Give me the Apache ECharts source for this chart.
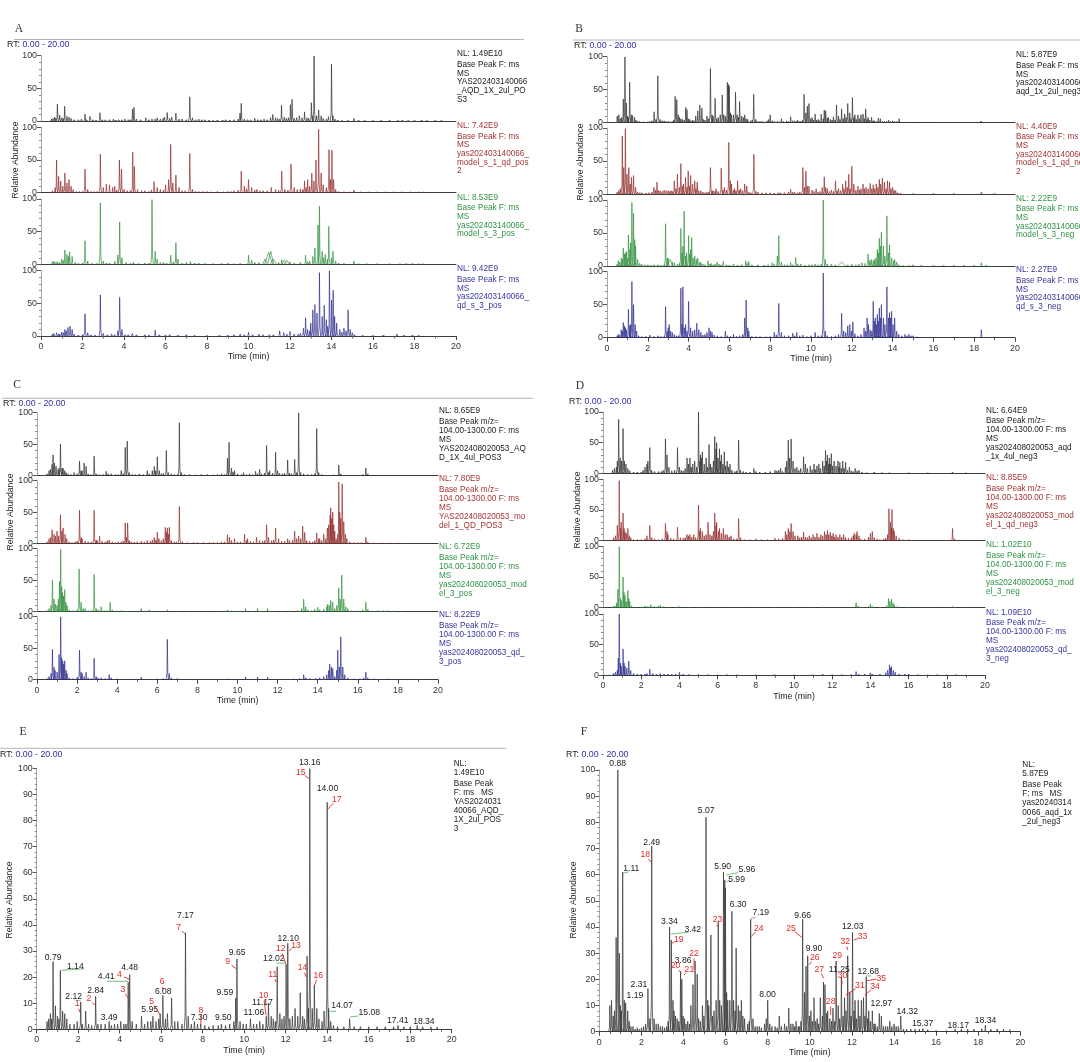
<!DOCTYPE html>
<html>
<head>
<meta charset="utf-8">
<script src="https://cdn.jsdelivr.net/npm/echarts@6/dist/echarts.min.js"></script>
<style>
  html, body { margin: 0; background: #fff; }
  #chart { width: 1080px; height: 1062px; }
</style>
</head>
<body>
<div id="chart"></div>
<script>
// Base peak chromatograms, six panels (A-D stacked, E/F annotated).
// Each trace is a list of peaks: [time (min), rel. abundance, half-width?]

// ---- panel A / E : positive mode, 2024-03-14 batch ----
const aqdPos = [[0.5,3],[0.58,4],[0.66,6],[0.72,4],[0.79,26],[0.9,9],[1.0,5],[1.07,4],[1.14,22.6],[1.25,7],[1.35,6],[1.45,4],[1.6,2],[1.8,2],[1.95,3],[2.12,10.5],[2.2,2],[2.36,7],[2.5,2],[2.65,1.5],[2.84,12.6],[2.95,2],[3.1,2],[3.3,2],[3.49,3],[3.6,1.5],[3.75,2],[3.9,2],[4.05,3],[4.2,2],[4.3,2],[4.41,18],[4.48,21],[4.6,3],[4.8,2],[5.05,5],[5.2,2],[5.35,3],[5.5,3],[5.6,5],[5.75,3],[5.88,4],[5.95,6],[6.08,13],[6.2,4],[6.3,6],[6.5,12],[6.65,3],[6.8,3],[7.0,2],[7.17,37],[7.3,5],[7.45,2],[7.6,3],[7.75,2],[7.9,2],[8.1,1.5],[8.3,1],[8.5,1.5],[8.75,1.5],[8.9,2],[9.1,1.5],[9.3,2],[9.5,3],[9.59,12],[9.65,27],[9.8,3],[9.95,2],[10.1,2],[10.3,4],[10.45,2],[10.6,2],[10.75,3],[10.9,2],[11.06,5],[11.17,10],[11.3,5],[11.4,4],[11.5,3],[11.59,24],[11.72,6],[11.82,4],[11.92,5],[12.02,25],[12.1,33],[12.2,4],[12.32,5],[12.45,8],[12.58,5],[12.7,14],[12.82,5],[12.9,4],[13.03,28],[13.1,8],[13.16,100],[13.28,8],[13.38,17],[13.5,8],[13.6,4],[13.75,3],[13.85,7],[14.0,87],[14.07,8],[14.17,3],[14.3,1.5],[14.5,1],[14.8,1],[15.08,4],[15.3,1],[15.6,1],[16.0,1],[16.4,1],[16.8,1],[17.2,1],[17.41,1.5],[17.7,1],[18.0,1],[18.34,1.5],[18.6,1],[19.0,1],[19.3,0.8]];
const modelQdPos = [[0.55,3],[0.68,8],[0.75,50],[0.85,25],[0.95,18],[1.05,10],[1.15,30],[1.25,15],[1.35,20],[1.45,10],[1.55,5],[1.7,2],[1.85,2],[2.0,2],[2.12,36],[2.25,5],[2.4,2],[2.55,2],[2.7,2],[2.86,59],[3.0,8],[3.15,13],[3.3,12],[3.45,8],[3.55,10],[3.65,4],[3.78,50],[3.88,36],[4.0,5],[4.15,3],[4.3,3],[4.42,62],[4.5,40],[4.65,5],[4.85,3],[5.0,3],[5.2,2],[5.32,4],[5.45,17],[5.6,8],[5.75,5],[5.9,4],[6.0,12],[6.15,20],[6.25,74],[6.35,15],[6.5,27],[6.65,8],[6.8,3],[6.95,3],[7.17,60],[7.3,5],[7.45,2],[7.6,2],[7.8,2],[8.0,2],[8.2,1.5],[8.5,2],[8.8,1.5],[9.0,2],[9.15,2],[9.3,3],[9.5,4],[9.65,33],[9.8,10],[9.9,6],[10.0,20],[10.15,8],[10.3,4],[10.4,5],[10.55,3],[10.7,3],[10.9,3],[11.1,8],[11.3,5],[11.45,4],[11.6,33],[11.75,5],[11.9,4],[12.05,44],[12.2,8],[12.35,5],[12.5,6],[12.62,5],[12.7,18],[12.78,8],[12.85,20],[12.95,10],[13.05,30],[13.15,18],[13.25,50],[13.38,97],[13.5,30],[13.6,12],[13.75,8],[13.88,66],[13.95,20],[14.02,65],[14.1,20],[14.2,5],[14.35,2],[14.6,1.5],[14.9,1.5],[15.08,4],[15.4,1.5],[15.8,1.5],[16.2,1.5],[16.6,1.5],[17.0,1.5],[17.4,1.5],[17.8,1.5],[18.2,1.5],[18.4,1.5]];
const modelPos = [[0.55,4],[0.62,5],[0.72,3],[0.8,4],[0.9,3],[1.0,8],[1.08,6],[1.15,22],[1.25,15],[1.32,12],[1.38,19],[1.5,12],[1.65,3],[1.8,1.5],[2.0,2],[2.12,36],[2.25,5],[2.45,1.5],[2.7,1.5],[2.86,94],[3.0,5],[3.15,2],[3.3,2],[3.55,5],[3.7,14],[3.79,65],[3.9,10],[4.1,3],[4.3,1.5],[4.45,3],[4.7,1.5],[5.0,2],[5.2,2],[5.35,99],[5.5,20],[5.6,8],[5.75,3],[5.9,3],[6.05,2],[6.25,14],[6.38,4],[6.5,33],[6.6,8],[6.8,2],[7.0,3],[7.2,4],[7.4,2],[7.6,2],[7.9,1.5],[8.3,1],[8.7,1.5],[9.0,2],[9.3,1],[9.6,1.5],[10.0,14],[10.15,6],[10.3,3],[10.5,3],[10.8,8,0.12],[10.97,18,0.2],[11.07,20,0.15],[11.2,8,0.15],[11.45,3],[11.6,7],[11.72,6,0.12],[11.85,6,0.12],[12.0,4],[12.2,2],[12.5,3],[12.75,14],[12.85,4],[12.95,5],[13.1,12],[13.2,25],[13.35,60],[13.42,89],[13.55,20],[13.62,10],[13.7,15],[13.8,8],[13.87,58],[14.0,10],[14.07,20],[14.2,5],[14.35,2],[14.6,1.5],[15.08,5],[15.3,1],[15.7,1],[16.2,1],[16.8,1],[17.3,1],[17.6,1.5],[17.9,1.5],[18.2,1],[18.4,1]];
const qdPos = [[0.55,3],[0.62,4],[0.75,5],[0.85,3],[0.9,3],[1.0,6],[1.08,5],[1.15,10],[1.22,8],[1.3,13],[1.4,15],[1.5,10],[1.6,3],[1.8,1.5],[2.0,2],[2.12,34],[2.25,5],[2.4,2],[2.6,1.5],[2.86,63],[3.0,4],[3.2,2],[3.4,3],[3.55,2],[3.7,8],[3.79,59],[3.9,10],[4.05,2],[4.2,2],[4.4,4],[4.6,2],[5.0,2],[5.2,1.5],[5.5,9],[5.7,2],[6.0,1.5],[6.2,2],[6.6,1.5],[7.0,2],[7.4,1],[8.0,1],[8.6,1],[9.0,1.5],[9.3,2],[9.6,3],[9.8,2],[10.0,6],[10.2,2],[10.5,3],[10.7,2],[11.0,2],[11.2,2],[11.5,8],[11.7,5],[11.85,3],[12.0,7],[12.2,3],[12.4,3],[12.5,4],[12.65,12],[12.75,28],[12.85,10],[12.95,8],[13.0,20],[13.1,40],[13.2,48],[13.3,35],[13.42,97],[13.55,30],[13.65,47],[13.75,25],[13.82,15],[13.9,100],[14.0,55],[14.08,70],[14.15,30],[14.25,20],[14.4,10],[14.5,6],[14.6,12],[14.7,8],[14.8,40],[14.9,10],[15.0,5],[15.1,2],[15.5,1],[16.0,1],[16.5,1.5],[17.15,3],[17.5,1.5],[17.9,1.5],[18.2,1]];

// ---- panel B / F : negative mode, 2024-03-14 batch ----
const aqdNeg = [[0.5,10],[0.58,12],[0.66,6],[0.72,8],[0.8,36],[0.88,100],[0.95,30],[1.0,10],[1.05,8],[1.11,61],[1.19,12],[1.25,11],[1.35,8],[1.42,4],[1.5,2],[1.6,2],[1.7,1],[1.8,1.5],[1.9,1],[2.0,1.5],[2.1,2],[2.2,3],[2.31,16.5],[2.4,5],[2.49,71],[2.6,5],[2.7,3],[2.8,3],[2.9,2],[3.0,2],[3.1,1.5],[3.2,2],[3.27,4],[3.34,40],[3.42,35],[3.5,12],[3.55,8],[3.62,6],[3.7,5],[3.78,4],[3.86,23],[3.92,20],[3.98,6],[4.05,5],[4.12,3],[4.2,4],[4.28,3],[4.35,10],[4.45,18],[4.55,27],[4.65,22],[4.72,5],[4.8,4],[4.9,10],[4.97,6],[5.07,82],[5.15,12],[5.2,10],[5.3,37],[5.38,6],[5.45,8],[5.55,12],[5.65,42],[5.72,12],[5.8,10],[5.9,61],[5.96,58],[5.99,55],[6.05,15],[6.1,12],[6.2,12],[6.3,46],[6.38,12],[6.45,8],[6.5,32],[6.6,10],[6.68,8],[6.75,12],[6.82,6],[6.9,5],[7.05,3],[7.12,4],[7.19,43],[7.3,5],[7.4,2],[7.5,2],[7.6,2],[7.7,1.5],[7.85,3],[7.93,5],[8.0,12],[8.1,3],[8.2,2],[8.35,2],[8.45,1.5],[8.55,6],[8.65,2],[8.8,3],[8.9,2],[9.0,9],[9.1,3],[9.2,3],[9.28,2],[9.35,4],[9.45,2],[9.5,2],[9.58,4],[9.66,43],[9.75,15],[9.82,25],[9.9,29],[9.98,6],[10.05,8],[10.12,4],[10.2,13],[10.28,4],[10.35,5],[10.42,3],[10.5,13],[10.6,6],[10.65,19],[10.72,18],[10.8,7],[10.85,8],[10.95,5],[11.03,4],[11.1,9],[11.18,4],[11.25,27],[11.35,10],[11.42,5],[11.5,21],[11.58,6],[11.65,13],[11.72,8],[11.8,29],[11.9,15],[11.96,6],[12.03,38],[12.1,8],[12.15,12],[12.22,5],[12.3,12],[12.38,6],[12.45,12],[12.55,13],[12.62,6],[12.68,21],[12.75,5],[12.8,8],[12.88,4],[12.97,8],[13.05,3],[13.1,3],[13.2,2],[13.3,7],[13.4,6],[13.5,2],[13.6,2],[13.7,2],[13.8,4],[13.9,2],[14.0,3],[14.1,2],[14.2,2],[14.32,6],[14.45,1],[14.6,1],[14.8,1],[15.0,1],[15.2,1],[15.37,1.2],[15.6,0.8],[16.0,0.5],[16.5,0.5],[16.9,1],[17.2,1],[17.5,1],[17.8,1],[18.17,1.2],[18.34,2.5],[18.6,1],[18.9,1],[19.2,1],[19.5,0.8]];
const modelQdNeg = [[0.5,3],[0.58,5],[0.65,8],[0.75,88],[0.82,40],[0.9,99],[0.98,30],[1.07,40],[1.14,15],[1.2,25],[1.3,28],[1.4,10],[1.5,3],[1.6,2],[1.7,2],[1.9,1.5],[2.05,2],[2.2,3],[2.3,10],[2.38,6],[2.45,18],[2.52,5],[2.6,5],[2.7,4],[2.8,6],[2.9,5],[3.0,5],[3.08,4],[3.15,5],[3.22,4],[3.3,20],[3.38,8],[3.45,30],[3.55,10],[3.62,46],[3.7,12],[3.75,15],[3.85,25],[3.92,10],[3.98,35],[4.05,12],[4.1,28],[4.2,15],[4.3,20],[4.36,8],[4.42,18],[4.5,5],[4.6,5],[4.7,3],[4.8,2],[4.9,3],[5.0,3],[5.07,40],[5.15,5],[5.2,5],[5.3,4],[5.35,8],[5.45,4],[5.6,39],[5.68,6],[5.75,10],[5.85,6],[5.97,78],[6.05,20],[6.1,15],[6.2,6],[6.25,8],[6.32,5],[6.4,20],[6.48,6],[6.55,8],[6.65,5],[6.75,15],[6.85,12],[6.95,3],[7.05,2],[7.2,60],[7.3,4],[7.4,3],[7.6,2],[7.8,2],[8.0,2],[8.2,1.5],[8.4,2],[8.5,2],[8.7,2],[8.9,3],[9.0,7],[9.1,3],[9.2,3],[9.35,2],[9.45,3],[9.6,40],[9.68,10],[9.75,35],[9.82,12],[9.9,12],[10.05,6],[10.15,4],[10.25,8],[10.35,3],[10.45,4],[10.55,10],[10.65,26],[10.72,10],[10.8,8],[10.9,4],[11.0,6],[11.1,4],[11.2,20],[11.28,5],[11.35,8],[11.45,5],[11.55,15],[11.62,8],[11.7,20],[11.78,10],[11.85,30],[11.92,8],[12.0,42],[12.1,15],[12.2,6],[12.3,12],[12.38,6],[12.45,8],[12.55,15],[12.62,8],[12.7,10],[12.8,8],[12.9,16],[12.98,8],[13.05,14],[13.12,8],[13.2,15],[13.28,10],[13.35,22],[13.42,15],[13.5,24],[13.6,18],[13.68,8],[13.75,20],[13.85,18],[13.92,8],[14.0,10],[14.08,6],[14.15,5],[14.25,2],[14.4,1],[15.0,0.8],[16.0,0.8],[17.0,0.8],[18.35,3],[19.0,0.8]];
const modelNeg = [[0.5,3],[0.55,8],[0.62,6],[0.7,12],[0.75,10],[0.8,27],[0.86,18],[0.9,20],[0.95,22],[1.0,12],[1.05,47],[1.12,25],[1.15,35],[1.22,96],[1.3,80],[1.36,40],[1.4,30],[1.5,10],[1.6,4],[1.7,3],[1.85,2],[2.0,2],[2.15,1.5],[2.3,2],[2.5,2],[2.65,1.5],[2.8,2],[2.87,64],[2.95,12],[3.0,12],[3.1,10,0.15],[3.2,6],[3.3,5],[3.45,3],[3.55,4],[3.62,57],[3.68,20],[3.72,30],[3.78,83],[3.85,15],[3.9,20],[4.0,46],[4.06,18],[4.1,25],[4.15,43],[4.22,12],[4.3,15],[4.38,10],[4.45,12],[4.55,6],[4.6,5],[4.7,3],[4.8,2],[4.95,8],[5.05,3],[5.1,4],[5.2,2],[5.3,3],[5.4,6],[5.5,3],[5.6,2],[5.7,7],[5.85,2],[6.0,1.5],[6.2,3],[6.4,1.5],[6.6,2],[6.8,8],[6.88,4],[6.95,7],[7.1,2],[7.4,2],[7.7,1.5],[7.9,2],[8.1,5],[8.2,3],[8.35,15],[8.42,46],[8.55,6],[8.7,2],[8.85,2],[9.0,5],[9.1,2],[9.25,13],[9.35,3],[9.5,3],[9.7,1.5],[9.9,2],[10.05,2],[10.2,3],[10.35,2],[10.5,3],[10.6,100],[10.7,10],[10.8,3],[11.0,3],[11.2,2],[11.5,6,0.2],[11.8,2],[12.0,3],[12.2,2],[12.35,3],[12.5,5],[12.65,4],[12.8,18],[12.88,8],[12.95,10],[13.05,8],[13.1,10],[13.18,12],[13.25,25],[13.3,20],[13.35,42],[13.4,30],[13.45,51],[13.55,30],[13.62,15],[13.72,76],[13.8,20],[13.85,32],[13.95,12],[14.05,8],[14.1,10],[14.2,6],[14.3,2],[14.5,1],[14.8,1],[15.0,2],[15.4,1],[16.0,1],[16.5,1],[17.0,1],[17.5,1],[18.0,1],[18.35,5],[18.6,1]];
const qdNeg = [[0.5,3],[0.55,5],[0.62,4],[0.7,12],[0.75,10],[0.8,23],[0.86,18],[0.9,15],[0.95,12],[1.05,43],[1.12,18],[1.15,20],[1.22,85],[1.3,50],[1.38,20],[1.45,10],[1.55,3],[1.7,2],[1.9,2],[2.1,4],[2.3,2],[2.5,3],[2.65,2],[2.8,2],[2.87,47],[2.95,10],[3.0,15],[3.05,20],[3.12,10],[3.2,8],[3.3,5],[3.4,3],[3.5,3],[3.62,75],[3.68,20],[3.72,77],[3.8,15],[3.85,20],[3.92,10],[4.0,55],[4.1,15],[4.2,10],[4.3,12],[4.4,22],[4.5,12],[4.6,8],[4.7,4],[4.8,5],[4.9,8],[5.0,15],[5.08,10],[5.15,8],[5.25,4],[5.4,3],[5.6,2],[5.8,10],[5.9,3],[6.05,2],[6.2,5],[6.35,2],[6.5,3],[6.65,5],[6.75,30],[6.82,57],[6.9,15],[6.95,10],[7.1,2],[7.3,2],[7.5,2],[7.8,1.5],[8.0,2],[8.2,8],[8.3,4],[8.42,52],[8.55,8],[8.7,3],[8.9,3],[9.1,7],[9.2,3],[9.3,8],[9.45,3],[9.6,4],[9.8,2],[10.0,3],[10.2,8],[10.35,3],[10.5,3],[10.6,98],[10.7,10],[10.8,3],[11.0,2],[11.2,3],[11.35,5],[11.5,37],[11.6,10],[11.7,8],[11.8,18],[11.9,20],[11.98,10],[12.05,24],[12.15,6],[12.3,3],[12.45,5],[12.6,15],[12.68,10],[12.75,30],[12.82,20],[12.9,12],[12.98,10],[13.05,55],[13.1,25],[13.15,30],[13.2,20],[13.25,35],[13.3,25],[13.35,45],[13.4,30],[13.45,50],[13.55,30],[13.62,20],[13.72,77],[13.8,30],[13.85,38],[13.9,30],[13.95,40],[14.02,20],[14.1,30],[14.2,10],[14.3,5],[14.45,3],[14.6,5],[14.7,3],[14.8,5],[14.9,3],[15.0,3],[15.2,1.5],[15.5,1],[16.0,1],[16.5,1],[17.0,1],[17.5,1],[18.0,1],[18.35,12],[18.6,1],[19.0,0.8]];

// ---- panel C : positive mode, 2024-08-02 batch ----
const aqdPos2 = [[0.5,3],[0.6,8],[0.67,10],[0.75,18],[0.8,33],[0.87,20],[0.95,15],[1.05,10],[1.1,12],[1.17,50],[1.25,12],[1.3,12],[1.38,8],[1.45,5],[1.55,3],[1.7,2],[1.85,5],[2.0,3],[2.12,23],[2.2,8],[2.25,8],[2.35,20],[2.45,15],[2.55,3],[2.7,2],[2.85,31],[2.95,3],[3.1,2],[3.3,2],[3.45,7],[3.55,3],[3.7,3],[3.9,2],[4.05,2],[4.2,8],[4.3,3],[4.4,45],[4.5,55],[4.6,5],[4.75,2],[4.9,2],[5.1,3],[5.3,2],[5.5,8],[5.6,3],[5.75,8],[5.85,15],[5.92,8],[6.0,30],[6.1,8],[6.2,3],[6.3,4],[6.45,40],[6.55,5],[6.7,3],[6.85,2],[7.0,2],[7.1,84],[7.2,5],[7.35,2],[7.6,2],[7.9,1.5],[8.2,2],[8.5,2],[8.8,1.5],[9.0,2],[9.2,3],[9.35,2],[9.5,28],[9.58,53],[9.7,12],[9.78,6],[9.85,8],[10.0,3],[10.2,2],[10.3,5],[10.45,2],[10.6,3],[10.75,2],[10.9,7],[11.0,3],[11.1,10],[11.2,3],[11.35,4],[11.45,48],[11.55,5],[11.6,8],[11.75,4],[11.9,37],[12.0,8],[12.1,4],[12.25,3],[12.35,4],[12.5,25],[12.6,4],[12.7,3],[12.85,26],[12.95,5],[13.05,100],[13.15,5],[13.3,3],[13.5,2],[13.7,2],[13.85,3],[13.95,75],[14.05,5],[14.2,2],[14.5,1],[14.8,1.5],[15.05,17],[15.15,3],[15.4,1],[15.7,1],[16.0,1],[16.25,2],[16.4,12],[16.5,3],[16.8,1],[17.2,1],[17.6,1],[18.0,1]];
const model1Pos2 = [[0.5,3],[0.6,8],[0.68,10],[0.75,22],[0.85,15],[0.92,12],[1.0,20],[1.08,12],[1.17,46],[1.24,20],[1.3,25],[1.4,15],[1.48,8],[1.6,3],[1.75,2],[1.9,3],[2.0,4],[2.12,53],[2.2,10],[2.25,8],[2.4,4],[2.55,3],[2.7,3],[2.85,53],[2.95,6],[3.0,5],[3.12,12],[3.25,4],[3.4,3],[3.5,5],[3.6,6],[3.75,3],[3.9,2],[4.05,3],[4.2,3],[4.3,4],[4.4,33],[4.46,10],[4.52,33],[4.6,5],[4.7,3],[4.85,3],[5.0,3],[5.2,4],[5.35,3],[5.5,5],[5.65,4],[5.75,6],[5.85,10],[5.93,6],[6.0,18],[6.08,8],[6.2,5],[6.3,8],[6.4,26],[6.46,18],[6.5,25],[6.55,15],[6.6,26],[6.7,5],[6.85,3],[6.95,3],[7.1,59],[7.25,3],[7.5,2],[7.8,2],[8.0,2],[8.3,2],[8.6,2],[8.8,2],[9.0,2],[9.2,3],[9.35,3],[9.5,14],[9.6,10],[9.7,5],[9.85,8],[10.0,3],[10.15,3],[10.35,15],[10.45,5],[10.5,8],[10.65,4],[10.8,3],[10.95,10],[11.1,5],[11.25,4],[11.35,5],[11.45,30],[11.55,10],[11.7,5],[11.8,6],[11.9,25],[12.05,8],[12.2,4],[12.35,4],[12.5,8],[12.6,5],[12.75,6],[12.85,20],[12.95,8],[13.05,12],[13.15,8],[13.25,28],[13.35,18],[13.45,5],[13.6,4],[13.75,3],[13.85,5],[13.95,17],[14.05,8],[14.1,8],[14.2,5],[14.3,15],[14.4,8],[14.48,25],[14.55,30],[14.62,45],[14.65,57],[14.7,40],[14.75,50],[14.8,30],[14.85,20],[14.92,8],[15.0,15],[15.05,98],[15.1,50],[15.15,40],[15.22,95],[15.3,35],[15.38,15],[15.45,8],[15.6,3],[15.8,2],[16.0,2],[16.2,2],[16.4,10],[16.5,3],[16.8,1.5],[17.2,1.5],[17.6,1.5],[18.0,1.5],[18.4,1]];
const model3Pos2 = [[0.5,2],[0.6,5],[0.7,10],[0.77,50],[0.85,20],[0.92,12],[1.0,10],[1.07,20],[1.12,48],[1.18,99],[1.23,40],[1.27,30],[1.32,25],[1.38,35],[1.44,15],[1.5,10],[1.6,3],[1.8,2],[2.0,3],[2.1,68],[2.2,15],[2.3,5],[2.4,5],[2.55,2],[2.7,2],[2.85,59],[2.95,5],[3.05,3],[3.2,8],[3.35,2],[3.5,2],[3.65,15],[3.75,3],[4.0,1.5],[4.2,2],[4.5,1],[4.8,1],[5.2,5],[5.4,1.5],[5.6,3],[6.0,1],[6.5,3],[7.0,1],[7.5,1],[8.0,1],[8.5,1],[9.0,1],[9.5,3],[9.7,1.5],[10.0,1],[10.4,5],[10.7,1],[11.0,5],[11.2,1],[11.5,5],[11.8,1],[12.2,1],[12.6,1.5],[13.0,2],[13.2,5],[13.3,20],[13.4,8],[13.5,3],[13.7,2],[13.85,4],[14.0,7],[14.1,3],[14.3,4],[14.45,8],[14.5,12],[14.58,10],[14.65,18],[14.75,15],[14.85,5],[14.95,10],[15.05,38],[15.12,20],[15.2,58],[15.3,20],[15.4,8],[15.5,5],[15.7,2],[16.0,1.5],[16.25,3],[16.4,15],[16.5,4],[16.7,1.5],[17.0,2],[17.3,2],[17.5,2],[17.8,1.5],[18.2,1]];
const qd3Pos2 = [[0.5,2],[0.6,5],[0.7,10],[0.77,48],[0.85,20],[0.9,15],[1.0,12],[1.1,40],[1.18,100],[1.23,35],[1.28,30],[1.33,25],[1.38,30],[1.45,15],[1.5,10],[1.6,3],[1.8,2],[2.0,4],[2.12,47],[2.2,12],[2.25,10],[2.35,5],[2.45,12],[2.55,3],[2.7,2],[2.85,34],[2.95,5],[3.05,3],[3.2,3],[3.4,2],[3.6,8],[3.7,3],[4.0,1.5],[4.4,1],[4.8,1],[5.2,4],[5.5,1],[6.0,1.5],[6.3,2],[6.5,64],[6.6,10],[6.7,3],[7.0,2],[7.5,1],[8.0,1],[8.5,1],[9.0,1],[9.5,1.5],[10.0,1],[10.4,4],[10.7,1],[11.0,4],[11.2,1],[11.5,4],[11.8,1],[12.3,1],[12.8,1.5],[13.1,2],[13.3,8],[13.4,3],[13.6,2],[13.9,2],[14.1,3],[14.3,5],[14.45,8],[14.55,15],[14.6,25],[14.68,20],[14.75,18],[14.85,5],[14.95,15],[15.0,47],[15.08,20],[15.15,68],[15.25,20],[15.35,8],[15.5,3],[15.8,1.5],[16.1,1.5],[16.3,3],[16.4,12],[16.5,3],[16.8,1.5],[17.2,1],[17.5,1.5],[17.9,1],[18.3,1]];

// ---- panel D : negative mode, 2024-08-02 batch ----
const aqdNeg2 = [[0.5,5],[0.6,8],[0.7,10],[0.75,20],[0.82,88],[0.9,25],[0.97,20],[1.05,73],[1.12,20],[1.2,15],[1.3,8],[1.4,4],[1.6,2],[1.8,2],[2.0,2],[2.1,5],[2.2,10],[2.3,15],[2.35,20],[2.45,42],[2.55,5],[2.7,3],[2.9,3],[3.05,3],[3.15,5],[3.27,56],[3.35,30],[3.45,10],[3.6,4],[3.75,5],[3.9,42],[4.0,10],[4.1,5],[4.2,4],[4.3,8],[4.4,25],[4.48,15],[4.55,25],[4.62,10],[4.7,15],[4.8,20],[4.9,10],[5.0,100],[5.07,20],[5.1,30],[5.15,25],[5.2,35],[5.3,15],[5.4,25],[5.47,10],[5.55,47],[5.62,15],[5.7,10],[5.78,20],[5.85,60],[5.92,40],[5.95,50],[6.02,25],[6.1,40],[6.15,20],[6.2,30],[6.28,15],[6.35,35],[6.42,12],[6.5,20],[6.58,10],[6.65,15],[6.75,5],[6.9,3],[7.0,4],[7.1,54],[7.2,5],[7.35,3],[7.5,2],[7.7,2],[7.9,8],[8.0,3],[8.2,2],[8.5,2],[8.75,3],[9.0,5],[9.1,4],[9.2,5],[9.3,8],[9.4,3],[9.55,10],[9.62,20],[9.7,54],[9.77,25],[9.85,56],[9.95,20],[10.05,8],[10.15,10],[10.25,5],[10.35,8],[10.5,27],[10.6,15],[10.7,8],[10.85,12],[10.95,6],[11.05,15],[11.12,6],[11.2,12],[11.3,15],[11.38,8],[11.5,20],[11.58,12],[11.65,37],[11.7,20],[11.75,30],[11.82,15],[11.85,25],[11.9,15],[11.95,32],[12.02,12],[12.1,20],[12.2,12],[12.3,20],[12.35,10],[12.4,18],[12.48,8],[12.55,20],[12.62,8],[12.7,18],[12.8,5],[12.9,10],[13.0,4],[13.1,3],[13.2,8],[13.3,4],[13.4,5],[13.55,2],[13.8,1],[14.2,2],[14.6,1],[15.0,0.8],[16.0,0.8],[17.0,0.8],[18.3,2],[19.0,0.8]];
const model1Neg2 = [[0.55,5],[0.65,8],[0.75,25],[0.85,98],[0.92,20],[0.95,30],[1.05,45],[1.1,20],[1.15,15],[1.22,12],[1.3,20],[1.38,8],[1.45,5],[1.6,2],[1.8,2],[2.0,2],[2.2,3],[2.3,8],[2.45,25],[2.55,5],[2.7,3],[2.9,2],[3.1,3],[3.27,28],[3.35,15],[3.4,10],[3.55,4],[3.7,3],[3.9,22],[4.05,5],[4.2,4],[4.3,5],[4.4,10],[4.48,8],[4.55,10],[4.65,6],[4.75,10],[4.85,5],[5.0,58],[5.05,15],[5.1,20],[5.2,15],[5.3,8],[5.4,10],[5.5,30],[5.6,10],[5.7,8],[5.78,15],[5.85,45],[5.92,25],[5.95,30],[6.05,15],[6.1,20],[6.2,12],[6.3,20],[6.4,10],[6.5,10],[6.6,6],[6.7,8],[6.85,3],[7.0,3],[7.1,36],[7.2,5],[7.4,2],[7.7,2],[8.0,3],[8.3,2],[8.6,2],[9.0,4],[9.2,3],[9.4,4],[9.55,15],[9.62,10],[9.7,20],[9.78,15],[9.85,28],[9.95,15],[10.05,8],[10.2,8],[10.3,5],[10.4,6],[10.5,14],[10.6,6],[10.7,5],[10.8,8],[10.9,5],[11.0,10],[11.1,6],[11.2,12],[11.3,6],[11.4,10],[11.5,8],[11.6,15],[11.68,10],[11.75,17],[11.82,10],[11.9,14],[11.98,8],[12.05,12],[12.12,6],[12.2,10],[12.3,6],[12.4,10],[12.5,6],[12.6,10],[12.7,5],[12.85,4],[13.0,5],[13.1,8],[13.15,12],[13.25,10],[13.3,15],[13.4,8],[13.5,3],[13.7,3],[13.9,6],[14.0,12],[14.1,15],[14.2,5],[14.35,3],[14.5,2],[14.7,3],[14.8,4],[14.9,10],[14.97,52],[15.05,30],[15.1,20],[15.13,51],[15.2,20],[15.25,15],[15.35,8],[15.5,4],[15.7,2],[16.0,2],[16.3,1],[16.8,1],[17.5,1],[18.0,1],[18.3,20],[18.4,3],[18.8,1],[19.3,0.8]];
const model3Neg2 = [[0.55,2],[0.62,3],[0.72,8],[0.78,30],[0.85,100],[0.92,15],[0.95,12],[1.05,50],[1.1,25],[1.15,20],[1.22,10],[1.3,28],[1.35,15],[1.4,10],[1.5,3],[1.7,1],[2.0,1.5],[2.2,3],[2.35,2],[2.5,5],[2.7,2],[2.9,3],[3.0,4],[3.15,2],[3.4,1],[3.8,1],[4.0,2],[4.5,1],[5.0,1],[6.0,0.8],[7.0,0.8],[8.0,0.8],[9.0,0.8],[10.0,0.8],[11.0,0.8],[11.5,1.5],[12.0,0.8],[13.0,1],[13.25,8],[13.35,3],[13.6,1],[13.9,2],[14.0,6],[14.1,2],[14.5,1],[14.85,3],[14.95,15],[15.02,10],[15.1,14],[15.18,8],[15.25,5],[15.4,2],[16.0,1],[17.0,0.8],[18.3,2],[19.0,0.8]];
const qd3Neg2 = [[0.55,3],[0.65,5],[0.75,8],[0.8,28],[0.85,100],[0.92,20],[0.95,15],[1.05,43],[1.1,20],[1.15,15],[1.25,12],[1.35,23],[1.45,8],[1.6,3],[1.8,2],[2.0,2],[2.2,2],[2.3,3],[2.45,10],[2.6,3],[2.8,2],[3.0,3],[3.2,2],[3.4,2],[3.6,2],[3.8,2],[4.0,5],[4.2,2],[4.5,1.5],[5.0,1.5],[5.5,1],[6.0,1],[6.5,1],[7.0,1],[8.0,1],[9.0,1],[10.0,1],[11.0,1],[11.5,2],[12.0,1],[12.5,1],[13.0,1.5],[13.25,6],[13.4,2],[13.7,2],[14.0,4],[14.1,2],[14.5,2],[14.8,4],[14.9,8],[15.0,17],[15.05,12],[15.1,14],[15.2,8],[15.3,5],[15.5,2],[15.8,2],[16.0,2],[16.5,1],[17.0,1],[17.5,1],[18.0,1],[18.5,1],[19.0,0.8]];

// ---- header texts beside each trace ----
const infoA = [
  ['NL: 1.49E10', 'Base Peak F: ms', 'MS', 'YAS202403140066', '_AQD_1X_2ul_PO', 'S3'],
  ['NL: 7.42E9', 'Base Peak F: ms', 'MS', 'yas202403140066_', 'model_s_1_qd_pos', '2'],
  ['NL: 8.53E9', 'Base Peak F: ms', 'MS', 'yas202403140066_', 'model_s_3_pos'],
  ['NL: 9.42E9', 'Base Peak F: ms', 'MS', 'yas202403140066_', 'qd_s_3_pos']
];
const infoB = [
  ['NL: 5.87E9', 'Base Peak F: ms', 'MS', 'yas202403140066_', 'aqd_1x_2ul_neg3'],
  ['NL: 4.40E9', 'Base Peak F: ms', 'MS', 'yas202403140066_', 'model_s_1_qd_neg', '2'],
  ['NL: 2.22E9', 'Base Peak F: ms', 'MS', 'yas202403140066_', 'model_s_3_neg'],
  ['NL: 2.27E9', 'Base Peak F: ms', 'MS', 'yas202403140066_', 'qd_s_3_neg']
];
const infoC = [
  ['NL: 8.65E9', 'Base Peak m/z=', '104.00-1300.00 F: ms', 'MS', 'YAS202408020053_AQ', 'D_1X_4ul_POS3'],
  ['NL: 7.80E9', 'Base Peak m/z=', '104.00-1300.00 F: ms', 'MS', 'YAS202408020053_mo', 'del_1_QD_POS3'],
  ['NL: 6.72E9', 'Base Peak m/z=', '104.00-1300.00 F: ms', 'MS', 'yas202408020053_mod', 'el_3_pos'],
  ['NL: 8.22E9', 'Base Peak m/z=', '104.00-1300.00 F: ms', 'MS', 'yas202408020053_qd_', '3_pos']
];
const infoD = [
  ['NL: 6.64E9', 'Base Peak m/z=', '104.00-1300.00 F: ms', 'MS', 'yas202408020053_aqd', '_1x_4ul_neg3'],
  ['NL: 8.85E9', 'Base Peak m/z=', '104.00-1300.00 F: ms', 'MS', 'yas202408020053_mod', 'el_1_qd_neg3'],
  ['NL: 1.02E10', 'Base Peak m/z=', '104.00-1300.00 F: ms', 'MS', 'yas202408020053_mod', 'el_3_neg'],
  ['NL: 1.09E10', 'Base Peak m/z=', '104.00-1300.00 F: ms', 'MS', 'yas202408020053_qd_', '3_neg']
];
const infoE = ['NL:', '1.49E10', 'Base Peak', 'F: ms   MS', 'YAS2024031', '40066_AQD_', '1X_2ul_POS', '3'];
const infoF = ['NL:', '5.87E9', 'Base Peak', 'F: ms   MS', 'yas20240314', '0066_aqd_1x', '_2ul_neg3'];

// ---- E / F annotations: [text, t, y] retention times; [no, t, y, peakT, peakY] peak numbers ----
const rtE = [['0.79',0.79,27.5],['1.14',1.86,24.2],['2.12',1.78,12.4],['2.84',2.84,14.9],['3.49',3.49,4.6],['4.41',3.35,20],['4.48',4.48,23.5],['5.95',5.44,7.7],['6.08',6.1,14.3],['7.17',7.17,43.4],['7.30',7.83,4.6],['9.50',8.99,4.6],['9.59',9.07,14],['9.65',9.66,29.2],['11.06',10.47,6.3],['11.17',10.88,10.2],['12.02',11.43,27],['12.10',12.12,34.7],['13.16',13.16,102],['14.00',14.01,92.1],['14.07',14.71,8.9],['15.08',16.03,6.3],['17.41',17.4,3.3],['18.34',18.66,3.1]];
const noE = [['1',1.95,9.7,2.08,6.5],['2',2.52,11.7,2.8,9.2],['3',4.15,15.3,4.42,11.7],['4',3.99,20.9,4.48,19.1],['5',5.54,10.7,5.94,5.6],['6',6.05,18.1,6.07,14.9],['7',6.84,39,7.14,36.6],['8',7.91,7.3,7.91,1.5],['9',9.2,25.8,9.61,23.2],['10',10.93,13,11.05,5.4],['11',11.38,20.9,11.54,18.1],['12',11.76,30.9,12.0,25.1],['13',12.5,31.9,12.17,30.2],['14',12.81,23.5,12.99,20],['15',12.73,98.5,13.14,95.9],['16',13.57,20.7,13.39,16.8],['17',14.46,88,14.01,84.2]];
const leadE = [[1.19,22.6,2.28,23.2],[1.9,11.1,2.11,11.1],[3.38,18.4,4.42,18.4],[11.54,25.4,12.0,25.4],[14.13,6.9,14.43,6.9],[15.09,4.7,15.5,5.1]];
const rtF = [['0.88',0.87,102.3],['1.11',1.52,62.4],['1.19',1.69,13.8],['2.31',1.88,18.1],['2.49',2.49,72.4],['3.34',3.33,41.9],['3.42',4.44,38.9],['3.86',3.98,27],['5.07',5.08,84.3],['5.90',5.86,63],['5.96',7.01,61.8],['5.99',6.52,58],['6.30',6.6,48.4],['7.19',7.67,45.5],['8.00',7.99,14],['9.66',9.66,44.3],['9.90',10.2,31.6],['11.25',11.4,23.6],['12.03',12.04,40.1],['12.68',12.78,22.9],['12.97',13.4,10.6],['14.32',14.63,7.6],['15.37',15.36,2.9],['18.17',17.05,2.5],['18.34',18.35,4.2]];
const noF = [['18',2.18,67.5,2.47,64.7],['19',3.78,35.3,3.46,33.8],['20',3.62,25.1,3.9,22.3],['21',4.28,23.8,4.03,21.7],['22',4.5,29.9,4.5,23.6],['23',5.62,42.9,5.6,40.1],['24',7.58,39.5,7.21,36.3],['25',9.11,39.5,9.63,36],['26',10.24,28.3,9.96,25.5],['27',10.45,23.9,10.66,20.4],['28',10.99,11.5,10.99,6.4],['29',11.3,28.9,11.27,26.1],['30',11.55,21.4,11.52,17.8],['31',12.38,17.5,11.71,14],['32',11.68,34.4,11.81,31.2],['33',12.5,36.3,12.09,35],['34',13.1,17.2,12.61,14],['35',13.4,20.4,12.71,19.5]];
const leadF = [[1.11,60.5,1.41,61.1],[3.41,37.3,4.23,38],[6.03,59.9,6.6,60.8],[6.03,57.3,6.2,57.8],[7.21,43.3,7.42,43.7],[12.68,21.3,12.9,21.3]];

// ---- styling ----
const FONT = "'Liberation Sans', Arial, Helvetica, sans-serif";
const SERIF = "'Liberation Serif', 'Times New Roman', serif";
const TRACE = ['#303030', '#922c2c', '#34903f', '#2e2e8e'];
const INK = ['#222222', '#a53535', '#2f9446', '#36369e'];
const RT_BLUE = '#2e2eaa';
const W0 = 0.06; // default peak half-width, minutes

const stacks = [
  { letter: 'A', lp: [19, 29], rule: [14, 524, 39.5], rt: [7, 45], x: [41, 456], zeros: [121, 192.7, 264.3, 336], span: 65.3, step: 8.6, ra: [15.5, 160], traces: [aqdPos, modelQdPos, modelPos, qdPos], info: infoA },
  { letter: 'B', lp: [579, 29], rule: [573, 1080, 40], rt: [574, 46], x: [607, 1015], zeros: [122.7, 194, 266, 337.7], span: 66, step: 8.6, ra: [581, 162], traces: [aqdNeg, modelQdNeg, modelNeg, qdNeg], info: infoB },
  { letter: 'C', lp: [17, 385], rule: [2, 533, 398.3], rt: [3, 403.3], x: [37, 438], zeros: [475.7, 543.7, 611.7, 679.7], span: 63, step: 9, ra: [10.3, 512], traces: [aqdPos2, model1Pos2, model3Pos2, qd3Pos2], info: infoC },
  { letter: 'D', lp: [580, 386], rule: null, rt: [569, 401.7], x: [603, 985], zeros: [473.3, 540.7, 607.7, 675.3], span: 61.3, step: 9, ra: [578, 510], traces: [aqdNeg2, model1Neg2, model3Neg2, qd3Neg2], info: infoD }
];
const singles = [
  { letter: 'E', lp: [23, 732], rule: [0, 506, 748.3], rt: [0, 755], x: [36.7, 451.7], y: [768.3, 1029.3], ra: [9.7, 900], trace: aqdPos, info: infoE, rts: rtE, nos: noE, leads: leadE },
  { letter: 'F', lp: [584, 732], rule: null, rt: [566, 754.3], x: [599.3, 1020.3], y: [770, 1031.7], ra: [573.4, 900], trace: aqdNeg, info: infoF, rts: rtF, nos: noF, leads: leadF }
];

const grid = [], xAxis = [], yAxis = [], series = [], graphic = [];

function txt(x, y, text, opt) {
  opt = opt || {};
  graphic.push({
    type: 'text', x, y, silent: true, rotation: opt.rot || 0,
    style: {
      text, fill: opt.color || '#222', font: (opt.size || 8.2) + 'px ' + (opt.family || FONT),
      textAlign: opt.align || 'left', textVerticalAlign: 'middle', align: opt.align || 'left', verticalAlign: 'middle'
    }
  });
}

function panelChrome(p, bottom) {
  txt(p.lp[0], p.lp[1], p.letter, { size: 11.5, family: SERIF, align: 'center', color: '#333' });
  if (p.rule) {
    graphic.push({ type: 'line', silent: true, shape: { x1: p.rule[0], y1: p.rule[2], x2: p.rule[1], y2: p.rule[2] }, style: { stroke: '#b4b4b4', lineWidth: 1 } });
  }
  graphic.push({
    type: 'text', x: p.rt[0], y: p.rt[1], silent: true,
    style: {
      text: '{a|RT:} {b|0.00 - 20.00}', font: '8.8px ' + FONT, textVerticalAlign: 'middle', verticalAlign: 'middle',
      rich: { a: { fill: '#222', font: '8.8px ' + FONT }, b: { fill: RT_BLUE, font: '8.8px ' + FONT } }
    }
  });
  txt(p.ra[0], p.ra[1], 'Relative Abundance', { size: 8.6, align: 'center', rot: Math.PI / 2 });
  txt((p.x[0] + p.x[1]) / 2, bottom + 21, 'Time (min)', { size: 8.8, align: 'center' });
}

function addAxes(left, right, top, bottom, showX, yStep, xMinor) {
  const i = grid.length;
  grid.push({ left, top, width: right - left, height: bottom - top, containLabel: false, outerBoundsMode: 'none' });
  xAxis.push({
    gridIndex: i, type: 'value', min: 0, max: 20, interval: 2,
    axisLine: { show: true, onZero: false, lineStyle: { color: '#3c3c3c', width: 1 } },
    axisTick: { show: showX, length: 4, lineStyle: { color: '#444' } },
    minorTick: { show: showX, splitNumber: xMinor, length: 2.5, lineStyle: { color: '#666' } },
    axisLabel: { show: showX, fontSize: 8.8, color: '#333', margin: 6, fontFamily: FONT },
    splitLine: { show: false }, minorSplitLine: { show: false }
  });
  yAxis.push({
    gridIndex: i, type: 'value', min: 0, max: 100, interval: yStep,
    axisLine: { show: true, lineStyle: { color: '#a8a8a8', width: 1 } },
    axisTick: { show: true, length: 4, lineStyle: { color: '#555' } },
    minorTick: { show: true, splitNumber: 5, length: 2, lineStyle: { color: '#888' } },
    axisLabel: { fontSize: 8.8, color: '#333', margin: 4, fontFamily: FONT },
    splitLine: { show: false }, minorSplitLine: { show: false }
  });
  return i;
}

function addTrace(i, peaks, color) {
  series.push({
    type: 'custom', xAxisIndex: i, yAxisIndex: i, data: peaks, encode: { x: 0, y: 1 },
    silent: true, clip: true, animation: false, z: 2,
    renderItem(params, api) {
      const p = peaks[params.dataIndex];
      const t = p[0], h = p[1], w = p[2] || W0;
      const broad = w > 0.1;
      const pts = [
        api.coord([t - w, 0]),
        api.coord([t - w * (broad ? 0.5 : 0.3), h * (broad ? 0.5 : 0.15)]),
        api.coord([t, h]),
        api.coord([t + w * (broad ? 0.5 : 0.4), h * (broad ? 0.5 : 0.15)]),
        api.coord([t + w, 0])
      ];
      return { type: 'polyline', shape: { points: pts }, style: { stroke: color, lineWidth: 0.7, fill: 'none' } };
    }
  });
}

function addAnnotations(i, s) {
  // green leaders under some retention-time labels
  series.push({
    type: 'custom', xAxisIndex: i, yAxisIndex: i, data: s.leads, silent: true, clip: false, animation: false, z: 3,
    renderItem(params, api) {
      const a = api.coord([api.value(0), api.value(1)]), b = api.coord([api.value(2), api.value(3)]);
      return { type: 'line', shape: { x1: a[0], y1: a[1], x2: b[0], y2: b[1] }, style: { stroke: '#52b05a', lineWidth: 0.8 } };
    }
  });
  // black retention times
  series.push({
    type: 'custom', xAxisIndex: i, yAxisIndex: i, data: s.rts.map(r => [r[1], r[2]]), silent: true, clip: false, animation: false, z: 4,
    renderItem(params, api) {
      const r = s.rts[params.dataIndex];
      const p = api.coord([r[1], r[2]]);
      return { type: 'text', x: p[0], y: p[1], style: { text: r[0], fill: '#1a1a1a', font: '8.6px ' + FONT, textAlign: 'center', textVerticalAlign: 'middle', align: 'center', verticalAlign: 'middle' } };
    }
  });
  // red peak numbers with leader
  series.push({
    type: 'custom', xAxisIndex: i, yAxisIndex: i, data: s.nos.map(r => [r[1], r[2]]), silent: true, clip: false, animation: false, z: 5,
    renderItem(params, api) {
      const r = s.nos[params.dataIndex];
      const a = api.coord([r[1], r[2]]), b = api.coord([r[3], r[4]]);
      const dx = b[0] - a[0], dy = b[1] - a[1], d = Math.hypot(dx, dy) || 1;
      const s0 = [a[0] + dx / d * 5, a[1] + dy / d * 5];
      return {
        type: 'group', children: [
          { type: 'line', shape: { x1: s0[0], y1: s0[1], x2: b[0], y2: b[1] }, style: { stroke: '#e02a2a', lineWidth: 0.9 } },
          { type: 'text', x: a[0], y: a[1], style: { text: r[0], fill: '#e02a2a', font: '8.6px ' + FONT, textAlign: 'center', textVerticalAlign: 'middle', align: 'center', verticalAlign: 'middle' } }
        ]
      };
    }
  });
}

// ---- stacked panels A-D ----
stacks.forEach(p => {
  panelChrome(p, p.zeros[3]);
  p.traces.forEach((peaks, k) => {
    const bottom = p.zeros[k], top = bottom - p.span;
    const i = addAxes(p.x[0], p.x[1], top, bottom, k === 3, 50, 2);
    addTrace(i, peaks, TRACE[k]);
    p.info[k].forEach((line, j) => {
      const y = top - 1.5 + (j === 0 ? 0 : 10.7 + (j - 1) * p.step);
      txt(p.x[1] + 1, y, line, { color: INK[k], size: 8.2 });
    });
  });
});

// ---- single annotated panels E, F ----
singles.forEach(s => {
  panelChrome(s, s.y[1]);
  const i = addAxes(s.x[0], s.x[1], s.y[0], s.y[1], true, 10, 4);
  addTrace(i, s.trace, TRACE[0]);
  addAnnotations(i, s);
  const offs = [0, 9, 20, 29, 38, 47.5, 56.5, 65.5];
  s.info.forEach((line, j) => txt(s.x[1] + 2, s.y[0] - 5 + offs[j], line, { size: 8.2 }));
});

const chart = echarts.init(document.getElementById('chart'), null, { renderer: 'canvas' });
chart.setOption({
  animation: false,
  backgroundColor: '#ffffff',
  textStyle: { fontFamily: FONT },
  grid, xAxis, yAxis, series,
  graphic: { elements: graphic }
});
</script>
</body>
</html>
